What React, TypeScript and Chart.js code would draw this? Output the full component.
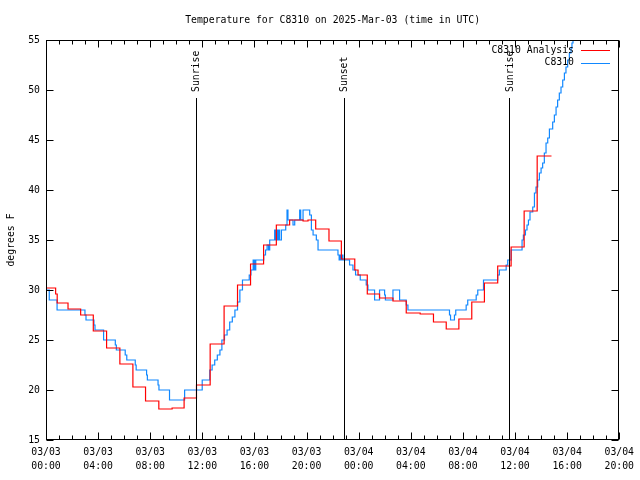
import React, { useEffect, useRef } from "react";
import { Chart, registerables } from "chart.js";

Chart.register(...registerables);

const TITLE = "Temperature for C8310 on 2025-Mar-03 (time in UTC)";
const Y_LABEL = "degrees F";
const FONT = "'DejaVu Sans Mono', 'Liberation Mono', monospace";

const X_MIN = 0;
const X_MAX = 44;
const Y_MIN = 15;
const Y_MAX = 55;
const Y_TICKS = [15, 20, 25, 30, 35, 40, 45, 50, 55];
const X_TICK_DATES = ["03/03", "03/03", "03/03", "03/03", "03/03", "03/03", "03/04", "03/04", "03/04", "03/04", "03/04", "03/04"];
const X_TICK_TIMES = ["00:00", "04:00", "08:00", "12:00", "16:00", "20:00", "00:00", "04:00", "08:00", "12:00", "16:00", "20:00"];

const SERIES_NAMES = ["C8310 Analysis", "C8310"];
const SERIES_COLORS = ["#ff0000", "#1188ff"];

// hours since 03/03 00:00 UTC
const ANALYSIS_HOURS = [0, 0.74, 0.86, 1.69, 2.66, 3.63, 4.65, 5.67, 6.67, 7.64, 8.66, 9.68, 10.6, 11.55, 12.6, 13.67, 14.7, 15.7, 16.7, 17.68, 18.7, 19.73, 20.11, 20.7, 21.72, 22.67, 23.7, 23.95, 24.66, 25.6, 26.63, 27.65, 28.72, 29.74, 30.72, 31.69, 32.68, 33.65, 34.67, 35.7, 36.7, 37.7, 38.8];
const ANALYSIS_TEMPS = [30.2, 29.6, 28.7, 28.1, 27.5, 25.9, 24.2, 22.6, 20.3, 18.9, 18.1, 18.2, 19.2, 20.5, 24.6, 28.4, 30.5, 32.6, 34.5, 36.5, 37.0, 36.9, 37.0, 36.1, 34.9, 33.1, 32.0, 31.5, 29.6, 29.2, 28.9, 27.7, 27.6, 26.8, 26.1, 27.1, 28.8, 30.7, 32.4, 34.3, 37.9, 43.4, 43.4];

const OBS_HOURS = [0, 0.25, 0.85, 2.99, 3.07, 3.68, 3.76, 4.42, 5.32, 5.4, 6.08, 6.2, 6.85, 6.92, 7.72, 7.78, 8.6, 8.67, 9.48, 10.64, 11.99, 12.57, 12.75, 12.95, 13.15, 13.35, 13.5, 13.7, 13.9, 14.1, 14.3, 14.5, 14.7, 14.88, 15.08, 15.6, 15.73, 15.9, 15.95, 16.0, 16.05, 16.1, 16.71, 16.85, 16.97, 17.08, 17.17, 17.55, 17.62, 17.7, 17.78, 17.85, 17.93, 18.07, 18.4, 18.5, 18.57, 18.96, 19.09, 19.47, 19.55, 19.73, 20.24, 20.37, 20.5, 20.75, 20.88, 22.41, 22.5, 22.58, 22.66, 22.75, 22.79, 23.3, 23.56, 23.76, 24.12, 24.58, 24.71, 25.22, 25.6, 25.99, 26.05, 26.63, 27.14, 27.65, 27.78, 30.97, 31.05, 31.35, 31.45, 32.25, 32.37, 33.02, 33.14, 33.58, 34.67, 34.8, 35.32, 35.44, 35.7, 36.54, 36.64, 36.8, 36.92, 37.03, 37.15, 37.36, 37.49, 37.61, 37.74, 37.87, 38.0, 38.12, 38.25, 38.38, 38.51, 38.64, 38.89, 39.02, 39.15, 39.27, 39.4, 39.53, 39.66, 39.79, 39.91, 40.04, 40.17, 40.3, 40.37, 40.45];
const OBS_TEMPS = [30.0, 29.0, 28.0, 27.5, 27.0, 26.5, 26.0, 25.0, 24.5, 24.0, 23.5, 23.0, 22.5, 22.0, 21.5, 21.0, 20.5, 20.0, 19.0, 20.0, 21.0, 22.0, 22.5, 23.0, 23.5, 24.0, 25.0, 25.5, 26.0, 26.8, 27.3, 28.0, 28.8, 30.0, 31.0, 31.5, 32.0, 33.0, 32.0, 33.0, 32.0, 33.0, 33.5, 34.0, 34.5, 34.0, 35.0, 36.0, 35.0, 36.0, 35.0, 36.0, 35.0, 36.0, 36.5, 38.0, 37.0, 36.5, 37.0, 38.0, 37.0, 38.0, 37.5, 36.0, 35.5, 35.0, 34.0, 33.5, 33.0, 33.5, 33.0, 33.5, 33.0, 32.5, 32.0, 31.5, 31.0, 30.5, 30.0, 29.0, 30.0, 29.5, 29.0, 30.0, 29.0, 28.5, 28.0, 27.5, 27.0, 27.5, 28.0, 28.5, 29.0, 29.5, 30.0, 31.0, 31.5, 32.0, 32.5, 33.0, 34.0, 35.0, 35.5, 36.0, 36.5, 37.0, 37.8, 38.3, 39.7, 40.3, 41.0, 41.7, 42.2, 42.7, 43.7, 44.7, 45.2, 46.1, 46.8, 47.5, 48.3, 49.0, 49.7, 50.3, 51.0, 51.7, 52.3, 53.0, 53.7, 54.2, 54.7, 55.0];

const EVENT_LABELS = ["Sunrise", "Sunset", "Sunrise"];
const EVENT_HOURS = [11.5, 22.84, 35.57];

const overlayPlugin = {
  id: "overlay",
  afterDraw(chart: any) {
    const { ctx, chartArea: a, scales } = chart;
    const xs = scales.x;
    const ys = scales.y;
    ctx.save();
    ctx.strokeStyle = "#000";
    ctx.lineWidth = 1;
    const L = Math.round(a.left) + 0.5;
    const R = Math.round(a.right) - 0.5;
    const T = Math.round(a.top) + 0.5;
    const B = Math.round(a.bottom) - 0.5;

    // event lines
    ctx.beginPath();
    EVENT_HOURS.forEach((h) => {
      const x = Math.round(xs.getPixelForValue(h)) + 0.5;
      ctx.moveTo(x, 98);
      ctx.lineTo(x, B);
    });
    ctx.stroke();

    // frame
    ctx.strokeRect(L, T, R - L, B - T);

    // ticks
    ctx.beginPath();
    Y_TICKS.forEach((v) => {
      const y = Math.round(ys.getPixelForValue(v)) + 0.5;
      ctx.moveTo(L, y);
      ctx.lineTo(L + 7, y);
      ctx.moveTo(R, y);
      ctx.lineTo(R - 7, y);
    });
    for (let h = X_MIN; h <= X_MAX; h++) {
      const x = Math.round(xs.getPixelForValue(h)) + 0.5;
      const len = h % 4 === 0 ? 7 : 4;
      ctx.moveTo(x, B);
      ctx.lineTo(x, B - len);
      ctx.moveTo(x, T);
      ctx.lineTo(x, T + len);
    }
    ctx.stroke();

    ctx.fillStyle = "#000";
    ctx.font = `9.8px ${FONT}`;

    // event labels
    EVENT_HOURS.forEach((h, i) => {
      const x = xs.getPixelForValue(h);
      ctx.save();
      ctx.translate(x + 1, 92);
      ctx.rotate(-Math.PI / 2);
      ctx.textAlign = "left";
      ctx.textBaseline = "middle";
      ctx.fillText(EVENT_LABELS[i], 0, 0);
      ctx.restore();
    });

    // title
    ctx.textAlign = "center";
    ctx.textBaseline = "middle";
    ctx.fillText(TITLE, (a.left + a.right) / 2, 20);

    // y label
    ctx.save();
    ctx.translate(11, (a.top + a.bottom) / 2);
    ctx.rotate(-Math.PI / 2);
    ctx.fillText(Y_LABEL, 0, 0);
    ctx.restore();

    // legend
    SERIES_NAMES.forEach((name, i) => {
      const y = 50 + i * 12.5;
      ctx.textAlign = "right";
      ctx.textBaseline = "middle";
      ctx.fillStyle = "#000";
      ctx.fillText(name, 574, y);
      ctx.strokeStyle = SERIES_COLORS[i];
      ctx.beginPath();
      ctx.moveTo(581, Math.round(y) + 0.5);
      ctx.lineTo(610, Math.round(y) + 0.5);
      ctx.stroke();
    });
    ctx.restore();
  },
};

export default function App() {
  const ref = useRef<HTMLCanvasElement | null>(null);

  useEffect(() => {
    document.body.style.margin = "0";
    const canvas = ref.current;
    if (!canvas) return;
    const analysis = ANALYSIS_HOURS.map((h, i) => ({ x: h, y: ANALYSIS_TEMPS[i] }));
    const obs = OBS_HOURS.map((h, i) => ({ x: h, y: OBS_TEMPS[i] }));
    const chart = new Chart(canvas, {
      type: "line",
      data: {
        datasets: [
          {
            label: SERIES_NAMES[0],
            data: analysis,
            borderColor: SERIES_COLORS[0],
            borderWidth: 1.2,
            stepped: "before",
            pointRadius: 0,
            fill: false,
          },
          {
            label: SERIES_NAMES[1],
            data: obs,
            borderColor: SERIES_COLORS[1],
            borderWidth: 1.2,
            stepped: "before",
            pointRadius: 0,
            fill: false,
          },
        ],
      },
      options: {
        responsive: false,
        animation: false,
        parsing: false,
        normalized: true,
        layout: { padding: { top: 40, right: 20, left: 0, bottom: 0 } },
        plugins: {
          legend: { display: false },
          title: { display: false },
          tooltip: { enabled: false },
        },
        scales: {
          x: {
            type: "linear",
            min: X_MIN,
            max: X_MAX,
            grid: { display: false, drawTicks: false },
            border: { display: false },
            afterFit: (s: any) => {
              s.height = 40;
            },
            afterBuildTicks: (s: any) => {
              s.ticks = X_TICK_DATES.map((_, i) => ({ value: X_MIN + i * 4 }));
            },
            ticks: {
              autoSkip: false,
              maxRotation: 0,
              minRotation: 0,
              padding: 6,
              color: "#000",
              font: { family: FONT, size: 9.8, lineHeight: 1.4 },
              callback: (v: any) => {
                const i = Math.round((Number(v) - X_MIN) / 4);
                return [X_TICK_DATES[i], X_TICK_TIMES[i]];
              },
            },
          },
          y: {
            type: "linear",
            min: Y_MIN,
            max: Y_MAX,
            grid: { display: false, drawTicks: false },
            border: { display: false },
            afterFit: (s: any) => {
              s.width = 46;
            },
            ticks: {
              stepSize: 5,
              padding: 6,
              color: "#000",
              font: { family: FONT, size: 9.8 },
            },
          },
        },
      },
      plugins: [overlayPlugin],
    });
    return () => chart.destroy();
  }, []);

  return (
    <div style={{ width: 640, height: 480, background: "#fff" }}>
      <canvas ref={ref} width={640} height={480} style={{ display: "block" }} />
    </div>
  );
}
